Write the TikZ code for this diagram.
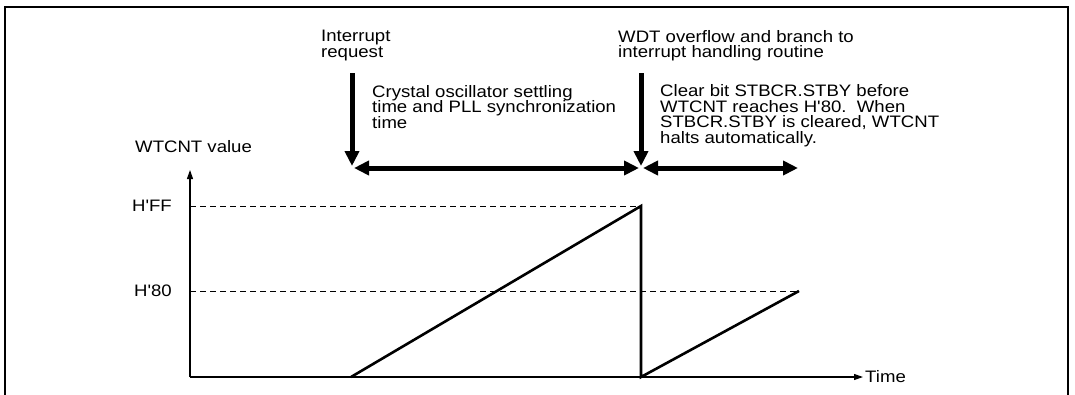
\documentclass[tikz,border=0pt]{standalone}
\usepackage{fontspec}
\newfontfamily\lsans{Liberation Sans}[FakeStretch=1.12]
\usetikzlibrary{arrows.meta}
\begin{document}
\begin{tikzpicture}[x=1pt,y=-1pt,
  lbl/.style={inner sep=0pt,anchor=north west,align=left,font=\lsans\fontsize{16.6pt}{15.6pt}\selectfont},
  thick arrow/.style={line width=5pt,-{Triangle[length=15pt,width=14pt]}},
  dbl arrow/.style={line width=5pt,{Triangle[length=15pt,width=14pt]}-{Triangle[length=15pt,width=14pt]}},
  axis/.style={line width=1.1pt,-{Triangle[length=9pt,width=6pt]}},
  dash line/.style={line width=1pt,dash pattern=on 6pt off 4pt},
  ramp/.style={line width=2.6pt,line cap=butt}]
\useasboundingbox (0,0) rectangle (1075,394);
\draw[line width=2pt] (5,7) rectangle (1068,400);
% coordinates
\coordinate (O) at (190,377);
\coordinate (ytip) at (190,170);
\coordinate (xtip) at (863,377);
\coordinate (ffL) at (190,206);
\coordinate (ffR) at (641,206);
\coordinate (h80L) at (190,291);
\coordinate (h80R) at (799,291);
\coordinate (r1s) at (351,377);
\coordinate (drop) at (641,377);
\coordinate (a1top) at (352,73);
\coordinate (a1tip) at (352,166);
\coordinate (a2top) at (641,73);
\coordinate (a2tip) at (641,166);
\coordinate (h1s) at (354,168);
\coordinate (h1e) at (639,168);
\coordinate (h2s) at (643,168);
\coordinate (h2e) at (798,168);
% texts
\node[lbl] (intr) at (321,29.8) {Interrupt\\request};
\node[lbl] (wdt) at (618,30) {WDT overflow and branch to\\interrupt handling routine};
\node[lbl] (cryst) at (372,85) {Crystal oscillator settling\\time and PLL synchronization\\time};
\node[lbl] (clr) at (660,84.2) {Clear bit STBCR.STBY before\\WTCNT reaches H'80.\ \ When\\STBCR.STBY is cleared, WTCNT\\halts automatically.};
\node[lbl] (wv) at (135,139.8) {WTCNT value};
\node[lbl,anchor=east] (hff) at (172,206) {H'FF};
\node[lbl,anchor=east] (h80) at (172,291) {H'80};
\node[lbl,anchor=west] (time) at (865,377) {Time};
% axes
\draw[axis] (O) -- (ytip);
\draw[axis] (O) -- (xtip);
\draw[dash line] (ffL) -- (ffR);
\draw[dash line] (h80L) -- (h80R);
% waveform
\draw[ramp,line join=miter] (r1s) -- (ffR) -- (drop) -- (h80R);
% thick arrows
\draw[thick arrow] (a1top) -- (a1tip);
\draw[thick arrow] (a2top) -- (a2tip);
\draw[dbl arrow] (h1s) -- (h1e);
\draw[dbl arrow] (h2s) -- (h2e);
\end{tikzpicture}
\end{document}
